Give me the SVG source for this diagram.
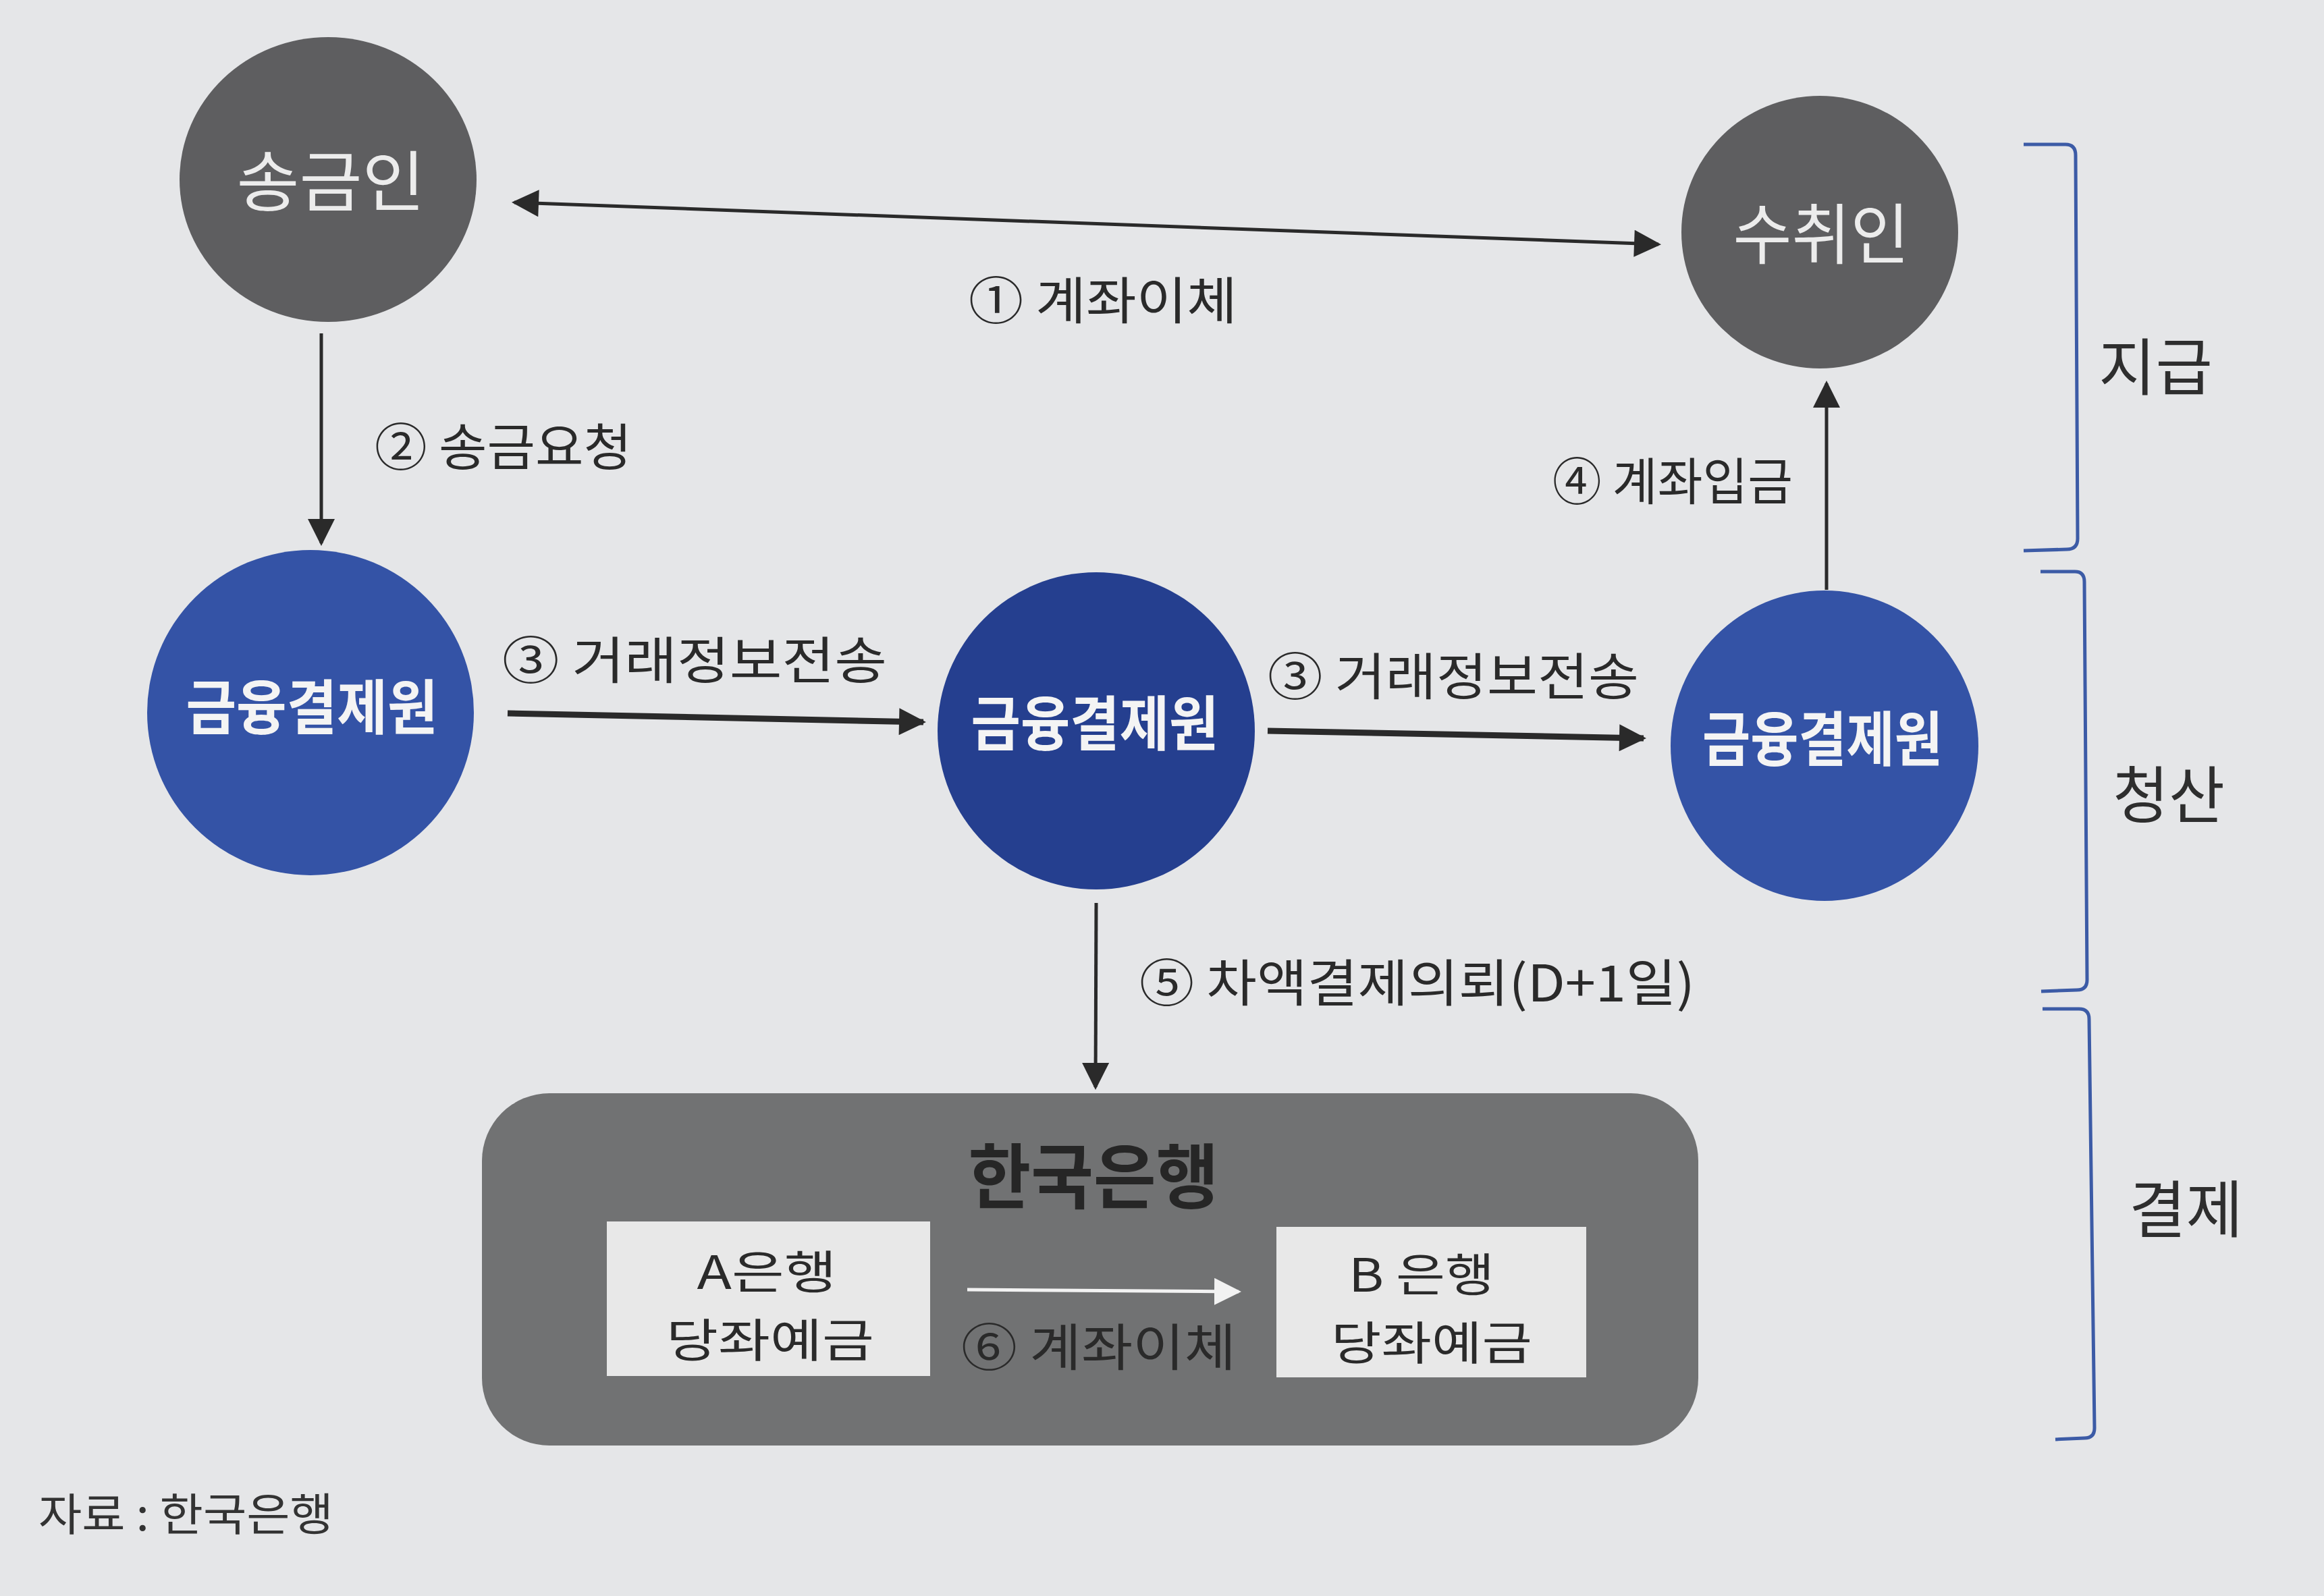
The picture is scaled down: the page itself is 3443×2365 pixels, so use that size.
<svg xmlns="http://www.w3.org/2000/svg" width="3443" height="2365" viewBox="0 0 3443 2365">
<style>
text{font-family:"Noto Sans CJK KR","Noto Sans",sans-serif;}
.lbl{fill:#2a2a2a;font-size:75px;}
.gtxt{fill:#ececec;font-size:98px;text-anchor:middle;}
.btxt{fill:#f4f4f4;font-size:88px;font-weight:700;text-anchor:middle;}
.side{fill:#2e2e2e;font-size:92px;}
.box{fill:#2a2a2a;font-size:68px;text-anchor:middle;}
.thin{stroke:#2a2a2a;stroke-width:5;fill:none;}
.thick{stroke:#2a2a2a;stroke-width:9;fill:none;}
.brk{stroke:#3c5ba6;stroke-width:5;fill:none;}
.grey{fill:#5e5e60;}
.blue{fill:#3453a6;}
.blue2{fill:#253f8f;}
</style>
<defs>
<marker id="ah" viewBox="0 0 10 10" refX="9" refY="5" markerUnits="userSpaceOnUse" markerWidth="44" markerHeight="40" orient="auto-start-reverse">
<path d="M0,0 L10,5 L0,10 z" fill="#2a2a2a"/>
</marker>
<marker id="ahw" viewBox="0 0 10 10" refX="9" refY="5" markerUnits="userSpaceOnUse" markerWidth="40" markerHeight="40" orient="auto">
<path d="M0,0 L10,5 L0,10 z" fill="#f2f2f2"/>
</marker>
</defs>
<rect x="0" y="0" width="3443" height="2365" fill="#e5e6e8"/>

<g id="connectors">
<line class="thin" x1="762" y1="300" x2="2457" y2="362" marker-start="url(#ah)" marker-end="url(#ah)"/>
<line class="thin" x1="476" y1="494" x2="476" y2="805" marker-end="url(#ah)"/>
<line class="thick" x1="752" y1="1057" x2="1368" y2="1070" marker-end="url(#ah)"/>
<line class="thick" x1="1878" y1="1083" x2="2435" y2="1094" marker-end="url(#ah)"/>
<line class="thin" x1="2706" y1="874" x2="2706" y2="568" marker-end="url(#ah)"/>
<line class="thin" x1="1624" y1="1338" x2="1623" y2="1611" marker-end="url(#ah)"/>
<text class="lbl" x="1435" y="473" textLength="398" lengthAdjust="spacingAndGlyphs">① 계좌이체</text>
<text class="lbl" x="555" y="690" textLength="381" lengthAdjust="spacingAndGlyphs">② 송금요청</text>
<text class="lbl" x="2300" y="741" textLength="356" lengthAdjust="spacingAndGlyphs">④ 계좌입금</text>
<text class="lbl" x="744" y="1006" textLength="570" lengthAdjust="spacingAndGlyphs">③ 거래정보전송</text>
<text class="lbl" x="1878" y="1030" textLength="550" lengthAdjust="spacingAndGlyphs">③ 거래정보전송</text>
<text class="lbl" x="1688" y="1484" textLength="823" lengthAdjust="spacingAndGlyphs">⑤ 차액결제의뢰(D+1일)</text>
</g>

<g id="sender">
<ellipse class="grey" cx="486" cy="266" rx="220" ry="211"/>
<text class="gtxt" x="490" y="305" textLength="279" lengthAdjust="spacingAndGlyphs">송금인</text>
</g>

<g id="receiver">
<ellipse class="grey" cx="2696" cy="344" rx="205" ry="202"/>
<text class="gtxt" x="2698" y="383" font-size="92" textLength="261" lengthAdjust="spacingAndGlyphs">수취인</text>
</g>

<g id="kftc-left">
<ellipse class="blue" cx="460" cy="1056" rx="242" ry="241"/>
<text class="btxt" x="462" y="1080" textLength="373" lengthAdjust="spacingAndGlyphs">금융결제원</text>
</g>

<g id="kftc-middle">
<ellipse class="blue2" cx="1624" cy="1083" rx="235" ry="235"/>
<text class="btxt" x="1622" y="1104" textLength="367" lengthAdjust="spacingAndGlyphs">금융결제원</text>
</g>

<g id="kftc-right">
<ellipse class="blue" cx="2703" cy="1105" rx="228" ry="230"/>
<text class="btxt" x="2700" y="1127" font-size="80" textLength="356" lengthAdjust="spacingAndGlyphs">금융결제원</text>
</g>

<g id="bok">
<rect x="714" y="1620" width="1802" height="522" rx="100" ry="100" fill="#717273"/>
<text x="1620" y="1782" font-size="105" font-weight="700" fill="#262626" text-anchor="middle" textLength="371" lengthAdjust="spacingAndGlyphs">한국은행</text>
<line x1="1433" y1="1911" x2="1835" y2="1914" stroke="#f2f2f2" stroke-width="5" marker-end="url(#ahw)"/>
<text class="lbl" x="1424" y="2024" textLength="407" lengthAdjust="spacingAndGlyphs">⑥ 계좌이체</text>
</g>

<g id="bank-a">
<rect x="899" y="1810" width="479" height="229" fill="#e8e8e8"/>
<text class="box" x="1136" y="1910" textLength="207" lengthAdjust="spacingAndGlyphs">A은행</text>
<text class="box" x="1141" y="2011" textLength="308" lengthAdjust="spacingAndGlyphs">당좌예금</text>
</g>

<g id="bank-b">
<rect x="1891" y="1818" width="459" height="223" fill="#e8e8e8"/>
<text class="box" x="2106" y="1914" textLength="216" lengthAdjust="spacingAndGlyphs">B 은행</text>
<text class="box" x="2121" y="2015" textLength="298" lengthAdjust="spacingAndGlyphs">당좌예금</text>
</g>

<g id="bracket-payment">
<path class="brk" d="M2998,214 L3060,214 Q3075,214 3075,230 L3078,798 Q3078,814 3062,814 L2998,816"/>
<text class="side" x="3109" y="578" textLength="169" lengthAdjust="spacingAndGlyphs">지급</text>
</g>

<g id="bracket-clearing">
<path class="brk" d="M3023,847 L3074,847 Q3088,847 3088,862 L3092,1452 Q3092,1467 3077,1467 L3024,1469"/>
<text class="side" x="3130" y="1212" textLength="166" lengthAdjust="spacingAndGlyphs">청산</text>
</g>

<g id="bracket-settlement">
<path class="brk" d="M3026,1495 L3080,1495 Q3095,1495 3095,1510 L3103,2116 Q3103,2131 3088,2131 L3045,2133"/>
<text class="side" x="3154" y="1826" textLength="169" lengthAdjust="spacingAndGlyphs">결제</text>
</g>

<g id="source">
<text x="57" y="2268" font-size="66" fill="#333333" textLength="437" lengthAdjust="spacingAndGlyphs">자료 : 한국은행</text>
</g>
</svg>
